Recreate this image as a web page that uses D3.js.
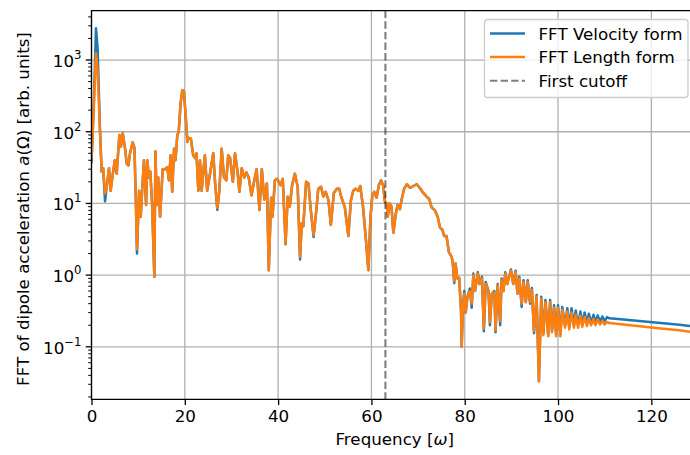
<!DOCTYPE html>
<html lang="en">
    <head>
        <meta charset="utf-8">
        <title>FFT of dipole acceleration</title>
        <style type="text/css">
            body { margin: 0; background: #fff; }
            text { font-family: "DejaVu Sans", sans-serif; }
        </style>
    </head>
    <body>

<script src="https://d3js.org/d3.v7.min.js"></script>

<script>

    // frequencies (omega)
    var freq = [
        0, 0.5, 0.96, 1.3, 1.82, 2.18, 2.5, 2.9, 3.25, 3.75,
        4.1, 4.5, 5.0, 5.4, 5.97, 6.3, 6.7, 7.2, 7.55, 7.9,
        8.25, 8.83, 9.2, 9.47, 9.75, 10.2, 10.55, 10.9, 11.25, 11.7,
        11.97, 12.3, 12.6, 13.0, 13.47, 13.7, 14.0, 14.3, 14.7, 15.26,
        15.75, 16.25, 16.6, 16.97, 17.3, 17.7, 18.0, 18.4, 18.7, 19.1,
        19.47, 19.8, 20.25, 20.55, 20.85, 21.3, 21.8, 22.2, 22.5, 22.9,
        23.25, 23.6, 24.3, 24.8, 25.4, 26.1, 26.5, 26.97, 27.4, 27.9,
        28.4, 28.9, 29.3, 29.7, 30.3, 30.76, 31.3, 31.7, 32.2, 32.75,
        33.2, 33.7, 34.3, 34.9, 35.4, 36.0, 36.5, 37.05, 37.6, 38.0,
        38.5, 38.8, 39.3, 39.8, 40.5, 41.0, 41.6, 42.05, 42.5, 43.0,
        43.6, 44.2, 44.7, 45.06, 45.4, 46.0, 46.5, 47.0, 47.6, 48.2,
        48.6, 49.2, 49.7, 50.2, 50.8, 51.3, 51.95, 52.6, 53.1, 53.5,
        53.9, 54.3, 55.05, 55.6, 56.1, 56.6, 57.2, 57.6, 58.2, 58.8,
        59.35, 59.8, 60.2, 60.6, 61.1, 61.6, 62.06, 62.5, 62.9, 63.3,
        63.5, 63.9, 64.3, 64.7, 65.2, 65.6, 66.1, 66.5, 67.0, 67.6,
        68.3, 69.0, 69.7, 70.5, 71.1, 71.8, 72.4, 72.9, 73.6, 74.2,
        74.7, 75.2, 75.6, 76.1, 76.6, 77.2, 77.45, 77.75, 78.05, 78.4,
        78.8, 79.2, 79.35, 79.6, 79.9, 80.2, 80.6, 81.1, 81.5, 81.85,
        82.2, 82.8, 83.2, 83.7, 84.1, 84.5, 85.1, 85.4, 85.8, 86.35,
        86.6, 87.07, 87.6, 87.9, 88.3, 88.7, 89.1, 89.9, 90.4, 90.9,
        91.3, 91.7, 92.2, 92.6, 93.1, 93.5, 94.0, 94.4, 94.85, 95.4,
        95.9, 96.4, 96.85, 97.3, 97.9, 98.3, 98.7, 99.15, 99.6, 100.0,
        100.5, 100.9, 101.5, 102.0, 102.4, 102.9, 103.4, 103.8, 104.3, 104.8,
        105.2, 105.7, 106.2, 106.6, 107.1, 107.6, 108.0, 108.5, 109.0, 109.5,
        110.0, 110.5, 111.0, 114, 118, 122, 126, 129
    ];

    // FFT velocity form
    var velocity = [
        36, 250, 2770, 1500, 105, 27.7, 31, 10.7, 17, 31,
        15, 24, 40, 26, 90, 62, 95, 58, 36, 34,
        50, 71, 60, 13.8, 2.0, 15, 6.5, 17, 40, 9.5,
        40, 23, 28, 9.5, 0.95, 53, 9.5, 23, 6.5, 30,
        30, 32, 21, 47, 14.5, 58, 40, 90, 100, 250,
        380, 370, 146, 72, 82, 80, 47, 43, 50, 15,
        40, 15, 47, 15, 26, 50, 19, 8.1, 15, 58,
        23, 21, 47, 43, 20, 50, 28, 14.5, 31, 23,
        27, 23, 13, 21, 30, 8.1, 30, 11.3, 19, 1.17,
        12, 6.5, 21, 22, 18, 22, 2.7, 12.4, 9, 18,
        26, 17, 1.65, 5.3, 4.8, 20, 19, 8.1, 3.4, 8.1,
        16, 17, 12.5, 14.5, 11, 5, 14, 16, 16, 12.5,
        10.5, 8.8, 3.5, 11, 15, 16, 15, 17.5, 9, 3.2,
        1.17, 6.5, 13, 14.5, 12, 18, 21, 18, 10.5, 10,
        6.5, 10, 9, 3.9, 7, 9.5, 8.3, 11.5, 16, 18.5,
        16.5, 17.5, 18.5, 16, 14, 12.5, 11.5, 8.8, 8, 6.5,
        4.6, 4.3, 3.5, 3.5, 2.1, 1.8, 1.45, 0.77, 1.45, 0.9,
        0.92, 0.33, 0.1, 0.35, 0.6, 0.3, 0.5, 0.65, 0.35, 1.05,
        0.6, 1.1, 0.75, 0.95, 0.165, 0.8, 0.6, 0.2, 0.55, 0.6,
        0.16, 0.75, 0.2, 0.9, 0.6, 1.1, 0.75, 1.2, 0.75, 1.15,
        0.55, 0.95, 0.36, 0.85, 0.42, 0.85, 0.4, 0.66, 0.155, 0.53,
        0.033, 0.5, 0.154, 0.45, 0.146, 0.45, 0.17, 0.38, 0.146, 0.38,
        0.15, 0.36, 0.2, 0.345, 0.19, 0.345, 0.2, 0.32, 0.2, 0.31,
        0.205, 0.3, 0.21, 0.29, 0.215, 0.28, 0.22, 0.275, 0.225, 0.265,
        0.23, 0.26, 0.25, 0.24, 0.228, 0.215, 0.203, 0.193
    ];

    // FFT length form
    var lengthForm = [
        42, 220, 1240, 720, 105, 27.7, 31, 13.8, 17, 31,
        15, 24, 40, 26, 90, 62, 95, 58, 36, 34,
        50, 71, 60, 13.8, 2.3, 15, 6.5, 17, 40, 9.5,
        40, 23, 28, 9.5, 0.95, 53, 9.5, 23, 6.5, 30,
        30, 32, 21, 47, 14.5, 58, 40, 90, 100, 250,
        380, 370, 146, 72, 82, 80, 47, 43, 50, 15,
        40, 15, 47, 15, 26, 50, 19, 8.6, 15, 58,
        23, 21, 47, 43, 20, 50, 28, 14.5, 31, 23,
        27, 23, 13, 21, 30, 8.1, 30, 11.3, 19, 1.17,
        12, 6.5, 21, 22, 18, 22, 2.7, 12.4, 9, 18,
        26, 17, 1.8, 5.3, 4.8, 20, 19, 8.1, 3.6, 8.1,
        16, 17, 12.5, 14.5, 11, 5, 14, 16, 16, 12.5,
        10.5, 8.8, 3.5, 11, 15, 16, 15, 17.5, 9, 3.2,
        1.17, 6.5, 13, 14.5, 12, 18, 21, 18, 10.5, 10,
        6.5, 10, 9, 3.9, 7, 9.5, 8.3, 11.5, 16, 18.5,
        16.5, 17.5, 18.5, 16, 14, 12.5, 11.5, 8.8, 8, 6.5,
        4.6, 4.3, 3.5, 3.5, 2.1, 1.8, 1.45, 0.82, 1.45, 0.9,
        0.92, 0.33, 0.1, 0.35, 0.55, 0.3, 0.5, 0.6, 0.4, 1.0,
        0.6, 1.05, 0.75, 0.9, 0.18, 0.75, 0.6, 0.22, 0.55, 0.57,
        0.17, 0.72, 0.23, 0.86, 0.6, 1.05, 0.75, 1.15, 0.75, 1.1,
        0.55, 0.9, 0.4, 0.8, 0.42, 0.8, 0.42, 0.62, 0.165, 0.5,
        0.033, 0.47, 0.145, 0.42, 0.14, 0.42, 0.16, 0.35, 0.14, 0.35,
        0.14, 0.33, 0.185, 0.31, 0.175, 0.3, 0.185, 0.28, 0.185, 0.27,
        0.19, 0.26, 0.195, 0.25, 0.2, 0.245, 0.2, 0.24, 0.205, 0.23,
        0.205, 0.222, 0.215, 0.205, 0.192, 0.18, 0.17, 0.16
    ];

    var cutoff = 63.0;

    var xTicks = [0, 20, 40, 60, 80, 100, 120];
    var yTicks = [0.1, 1, 10, 100, 1000];
    var yTickExp = ["\u22121", "0", "1", "2", "3"];

    var w = 690;
    var h = 455;
    var plotL = 91.5, plotR = 698, plotT = 10.7, plotB = 399.3;
    var fs = "16.7px";

    var x = d3.scaleLinear().domain([0, 130]).range([plotL, plotR]);
    var y = d3.scaleLog().domain([Math.pow(10, -1.732), Math.pow(10, 3.688)]).range([plotB, plotT]);

    var svg = d3.select("body")
            .append("svg")
            .attr("width", w)
            .attr("height", h);

    svg.append("defs").append("clipPath")
        .attr("id", "plotclip")
        .append("rect")
        .attr("x", plotL)
        .attr("y", plotT)
        .attr("width", plotR - plotL)
        .attr("height", plotB - plotT);

    //grid lines
    var grid = svg.append("g");
    grid.selectAll("line.gx")
        .data(xTicks)
        .enter()
        .append("line")
        .attr("x1", function(d) { return x(d); })
        .attr("x2", function(d) { return x(d); })
        .attr("y1", plotT)
        .attr("y2", plotB)
        .attr("stroke", "#b0b0b0")
        .attr("stroke-width", 1.3);
    grid.selectAll("line.gy")
        .data(yTicks)
        .enter()
        .append("line")
        .attr("x1", plotL)
        .attr("x2", plotR)
        .attr("y1", function(d) { return y(d); })
        .attr("y2", function(d) { return y(d); })
        .attr("stroke", "#b0b0b0")
        .attr("stroke-width", 1.3);

    var points = freq.map(function(f, i) {
        return { f: f, v: velocity[i], l: lengthForm[i] };
    });

    var plot = svg.append("g").attr("clip-path", "url(#plotclip)");

    var lineV = d3.line()
        .x(function(d) { return x(d.f); })
        .y(function(d) { return y(d.v); });
    var lineL = d3.line()
        .x(function(d) { return x(d.f); })
        .y(function(d) { return y(d.l); });

    plot.append("path")
        .datum(points)
        .attr("d", lineV)
        .attr("fill", "none")
        .attr("stroke", "#1f77b4")
        .attr("stroke-width", 2.5)
        .attr("stroke-linejoin", "round");

    plot.append("path")
        .datum(points)
        .attr("d", lineL)
        .attr("fill", "none")
        .attr("stroke", "#ff7f0e")
        .attr("stroke-width", 2.5)
        .attr("stroke-linejoin", "round");

    plot.append("line")
        .attr("x1", x(cutoff))
        .attr("x2", x(cutoff))
        .attr("y1", plotT)
        .attr("y2", plotB)
        .attr("stroke", "#000")
        .attr("stroke-opacity", 0.5)
        .attr("stroke-width", 2.1)
        .attr("stroke-dasharray", "7.4,3.2");

    //axes
    var xAxis = d3.axisBottom(x)
        .tickValues(xTicks)
        .tickSize(5.8)
        .tickPadding(5)
        .tickFormat(d3.format("d"));
    var gx = svg.append("g")
        .attr("transform", "translate(0," + plotB + ")")
        .call(xAxis);
    gx.select(".domain").remove();
    gx.selectAll("line").attr("stroke", "#000").attr("stroke-width", 1.3);
    gx.selectAll("text")
        .attr("fill", "#000")
        .style("font-family", "DejaVu Sans")
        .style("font-size", fs);

    var minor = y.ticks().filter(function(d) {
        return yTicks.indexOf(d) < 0 && d >= y.domain()[0] && d <= y.domain()[1];
    });

    var gy = svg.append("g");
    gy.selectAll("line.minor")
        .data(minor)
        .enter()
        .append("line")
        .attr("x1", plotL - 3.3)
        .attr("x2", plotL)
        .attr("y1", function(d) { return y(d); })
        .attr("y2", function(d) { return y(d); })
        .attr("stroke", "#000")
        .attr("stroke-width", 1);
    gy.selectAll("line.major")
        .data(yTicks)
        .enter()
        .append("line")
        .attr("x1", plotL - 5.8)
        .attr("x2", plotL)
        .attr("y1", function(d) { return y(d); })
        .attr("y2", function(d) { return y(d); })
        .attr("stroke", "#000")
        .attr("stroke-width", 1.3);

    var labels = gy.selectAll("text.ylab")
        .data(yTicks)
        .enter()
        .append("text")
        .attr("x", plotL - 10)
        .attr("y", function(d) { return y(d) + 7; })
        .attr("text-anchor", "end")
        .style("font-size", fs)
        .attr("fill", "#000");
    labels.append("tspan").text("10");
    labels.append("tspan")
        .attr("dy", -8)
        .style("font-size", "11.7px")
        .text(function(d, i) { return yTickExp[i]; });

    //spines (right spine is off the picture)
    svg.append("path")
        .attr("d", "M" + w + "," + plotT + "H" + plotL + "V" + plotB + "H" + w)
        .attr("fill", "none")
        .attr("stroke", "#000")
        .attr("stroke-width", 1.3);

    //axis labels
    var xl = svg.append("text")
        .attr("x", (plotL + plotR) / 2)
        .attr("y", 445)
        .attr("text-anchor", "middle")
        .style("font-size", fs);
    xl.append("tspan").text("Frequency [");
    xl.append("tspan").style("font-style", "italic").text("\u03c9");
    xl.append("tspan").text("]");

    var yl = svg.append("text")
        .attr("transform", "translate(29,209) rotate(-90)")
        .attr("text-anchor", "middle")
        .style("font-size", fs);
    yl.append("tspan").text("FFT of dipole acceleration ");
    yl.append("tspan").style("font-style", "italic").text("a");
    yl.append("tspan").text("(\u03a9) [arb. units]");

    //legend
    var legendItems = ["FFT Velocity form", "FFT Length form", "First cutoff"];
    var legendColors = ["#1f77b4", "#ff7f0e", "#808080"];

    var lg = svg.append("g");
    lg.append("rect")
        .attr("x", 484.5)
        .attr("y", 19.5)
        .attr("width", 203.5)
        .attr("height", 78)
        .attr("rx", 3)
        .attr("fill", "#fff")
        .attr("fill-opacity", 0.8)
        .attr("stroke", "#cccccc")
        .attr("stroke-width", 1.3);

    legendItems.forEach(function(name, i) {
        var ly = 33.5 + i * 23.6;
        lg.append("line")
            .attr("x1", 490)
            .attr("x2", 525)
            .attr("y1", ly)
            .attr("y2", ly)
            .attr("stroke", legendColors[i])
            .attr("stroke-width", i == 2 ? 2.1 : 2.5)
            .attr("stroke-dasharray", i == 2 ? "7.4,3.2" : null);
        lg.append("text")
            .attr("x", 538.5)
            .attr("y", ly + 6)
            .style("font-size", fs)
            .attr("fill", "#000")
            .text(name);
    });

</script>

    </body>
</html>
